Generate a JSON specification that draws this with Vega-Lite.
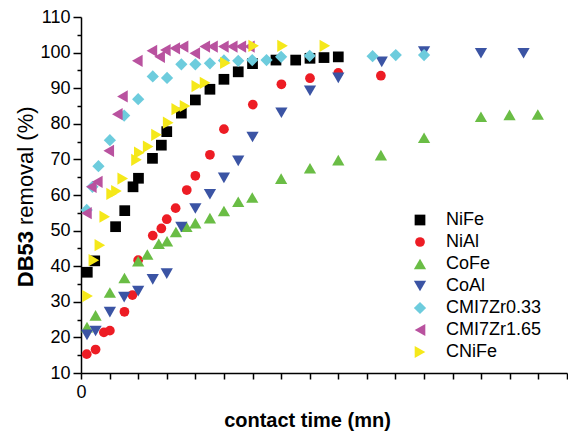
{
  "$schema": "https://vega.github.io/schema/vega-lite/v6.json",
  "width": 486,
  "height": 356,
  "autosize": "none",
  "padding": {"left": 81, "top": 17, "right": 1, "bottom": 59},
  "config": {
    "view": {"stroke": null},
    "font": "Liberation Sans",
    "axis": {"domainColor": "black", "tickColor": "black", "labelColor": "black", "titleColor": "black", "domainWidth": 1.5, "tickWidth": 1.5, "grid": false, "labelFont": "Liberation Sans", "titleFont": "Liberation Sans"}
  },
  "datasets": {
    "pts": [
      {"s": "NiFe", "t": 2.2, "r": 38.3}, {"s": "NiFe", "t": 4.8, "r": 41.5}, {"s": "NiFe", "t": 12.1, "r": 51.1}, {"s": "NiFe", "t": 15.3, "r": 55.6}, {"s": "NiFe", "t": 18.2, "r": 62.3}, {"s": "NiFe", "t": 20.1, "r": 64.7}, {"s": "NiFe", "t": 25, "r": 70.3}, {"s": "NiFe", "t": 28.1, "r": 74.0}, {"s": "NiFe", "t": 30, "r": 77.8}, {"s": "NiFe", "t": 35.1, "r": 83.0}, {"s": "NiFe", "t": 40, "r": 86.7}, {"s": "NiFe", "t": 45.1, "r": 89.7}, {"s": "NiFe", "t": 50, "r": 92.5}, {"s": "NiFe", "t": 55, "r": 94.6}, {"s": "NiFe", "t": 60, "r": 96.9}, {"s": "NiFe", "t": 68.2, "r": 97.9}, {"s": "NiFe", "t": 75.1, "r": 97.9}, {"s": "NiFe", "t": 80.1, "r": 98.4}, {"s": "NiFe", "t": 85, "r": 98.6}, {"s": "NiFe", "t": 90, "r": 98.8},
      {"s": "NiAl", "t": 2.0, "r": 15.3}, {"s": "NiAl", "t": 5.1, "r": 16.6}, {"s": "NiAl", "t": 8.0, "r": 21.4}, {"s": "NiAl", "t": 10.1, "r": 21.9}, {"s": "NiAl", "t": 15.2, "r": 27.2}, {"s": "NiAl", "t": 18.0, "r": 31.9}, {"s": "NiAl", "t": 20.0, "r": 41.7}, {"s": "NiAl", "t": 25.1, "r": 48.6}, {"s": "NiAl", "t": 28.1, "r": 50.6}, {"s": "NiAl", "t": 30.0, "r": 53.2}, {"s": "NiAl", "t": 33.1, "r": 56.3}, {"s": "NiAl", "t": 37.0, "r": 61.4}, {"s": "NiAl", "t": 40.0, "r": 65.4}, {"s": "NiAl", "t": 45.1, "r": 71.3}, {"s": "NiAl", "t": 50.0, "r": 78.5}, {"s": "NiAl", "t": 60.1, "r": 85.4}, {"s": "NiAl", "t": 70.1, "r": 91.1}, {"s": "NiAl", "t": 80.1, "r": 92.8}, {"s": "NiAl", "t": 90.0, "r": 94.3}, {"s": "NiAl", "t": 104.9, "r": 93.5},
      {"s": "CoFe", "t": 2.1, "r": 22.9}, {"s": "CoFe", "t": 5.1, "r": 26.2}, {"s": "CoFe", "t": 10.1, "r": 32.6}, {"s": "CoFe", "t": 15.2, "r": 36.7}, {"s": "CoFe", "t": 20.0, "r": 41.4}, {"s": "CoFe", "t": 23.2, "r": 43.3}, {"s": "CoFe", "t": 27.2, "r": 46.3}, {"s": "CoFe", "t": 30.1, "r": 47.0}, {"s": "CoFe", "t": 33.2, "r": 49.6}, {"s": "CoFe", "t": 36.9, "r": 51.1}, {"s": "CoFe", "t": 40.0, "r": 52.1}, {"s": "CoFe", "t": 45.1, "r": 53.5}, {"s": "CoFe", "t": 50.0, "r": 55.5}, {"s": "CoFe", "t": 55.0, "r": 58.1}, {"s": "CoFe", "t": 59.9, "r": 59.3}, {"s": "CoFe", "t": 70.0, "r": 64.6}, {"s": "CoFe", "t": 80.1, "r": 67.5}, {"s": "CoFe", "t": 90.0, "r": 69.8}, {"s": "CoFe", "t": 104.9, "r": 71.2}, {"s": "CoFe", "t": 120.0, "r": 76.1}, {"s": "CoFe", "t": 139.9, "r": 82.0}, {"s": "CoFe", "t": 149.9, "r": 82.5}, {"s": "CoFe", "t": 159.8, "r": 82.6},
      {"s": "CoAl", "t": 2.1, "r": 20.7}, {"s": "CoAl", "t": 5.1, "r": 21.8}, {"s": "CoAl", "t": 10.1, "r": 27.1}, {"s": "CoAl", "t": 15.1, "r": 31.3}, {"s": "CoAl", "t": 20.0, "r": 33.0}, {"s": "CoAl", "t": 25.1, "r": 36.3}, {"s": "CoAl", "t": 30.0, "r": 37.9}, {"s": "CoAl", "t": 35.1, "r": 51.0}, {"s": "CoAl", "t": 40.0, "r": 56.2}, {"s": "CoAl", "t": 45.1, "r": 60.2}, {"s": "CoAl", "t": 50.0, "r": 64.8}, {"s": "CoAl", "t": 55.0, "r": 69.6}, {"s": "CoAl", "t": 60.0, "r": 76.3}, {"s": "CoAl", "t": 70.1, "r": 83.1}, {"s": "CoAl", "t": 80.1, "r": 89.3}, {"s": "CoAl", "t": 90.0, "r": 92.9}, {"s": "CoAl", "t": 105.2, "r": 97.4}, {"s": "CoAl", "t": 120.0, "r": 100.3}, {"s": "CoAl", "t": 139.9, "r": 99.8}, {"s": "CoAl", "t": 154.8, "r": 99.8},
      {"s": "CMI7Zr0.33", "t": 2.0, "r": 55.8}, {"s": "CMI7Zr0.33", "t": 4.0, "r": 62.3}, {"s": "CMI7Zr0.33", "t": 6.1, "r": 68.1}, {"s": "CMI7Zr0.33", "t": 10.1, "r": 75.4}, {"s": "CMI7Zr0.33", "t": 15.1, "r": 82.3}, {"s": "CMI7Zr0.33", "t": 20.0, "r": 86.9}, {"s": "CMI7Zr0.33", "t": 25.1, "r": 93.3}, {"s": "CMI7Zr0.33", "t": 30.1, "r": 92.9}, {"s": "CMI7Zr0.33", "t": 35.1, "r": 96.7}, {"s": "CMI7Zr0.33", "t": 40.0, "r": 96.7}, {"s": "CMI7Zr0.33", "t": 45.1, "r": 97.0}, {"s": "CMI7Zr0.33", "t": 50.0, "r": 97.8}, {"s": "CMI7Zr0.33", "t": 55.0, "r": 97.7}, {"s": "CMI7Zr0.33", "t": 59.9, "r": 97.9}, {"s": "CMI7Zr0.33", "t": 64.9, "r": 97.9}, {"s": "CMI7Zr0.33", "t": 70.0, "r": 98.8}, {"s": "CMI7Zr0.33", "t": 80.0, "r": 99.1}, {"s": "CMI7Zr0.33", "t": 102.0, "r": 99.0}, {"s": "CMI7Zr0.33", "t": 110.1, "r": 99.3}, {"s": "CMI7Zr0.33", "t": 120.0, "r": 99.3},
      {"s": "CMI7Zr1.65", "t": 1.9, "r": 54.9}, {"s": "CMI7Zr1.65", "t": 3.6, "r": 62.3}, {"s": "CMI7Zr1.65", "t": 5.7, "r": 63.7}, {"s": "CMI7Zr1.65", "t": 9.7, "r": 72.4}, {"s": "CMI7Zr1.65", "t": 12.7, "r": 82.7}, {"s": "CMI7Zr1.65", "t": 14.5, "r": 87.7}, {"s": "CMI7Zr1.65", "t": 19.7, "r": 97.7}, {"s": "CMI7Zr1.65", "t": 24.8, "r": 100.5}, {"s": "CMI7Zr1.65", "t": 27.5, "r": 98.8}, {"s": "CMI7Zr1.65", "t": 29.5, "r": 100.7}, {"s": "CMI7Zr1.65", "t": 32.8, "r": 101.2}, {"s": "CMI7Zr1.65", "t": 35.7, "r": 101.7}, {"s": "CMI7Zr1.65", "t": 39.8, "r": 99.8}, {"s": "CMI7Zr1.65", "t": 43.3, "r": 101.7}, {"s": "CMI7Zr1.65", "t": 46.0, "r": 101.7}, {"s": "CMI7Zr1.65", "t": 49.8, "r": 101.7}, {"s": "CMI7Zr1.65", "t": 52.9, "r": 101.7}, {"s": "CMI7Zr1.65", "t": 55.9, "r": 101.7}, {"s": "CMI7Zr1.65", "t": 58.9, "r": 101.7},
      {"s": "CNiFe", "t": 2.3, "r": 31.6}, {"s": "CNiFe", "t": 4.5, "r": 41.7}, {"s": "CNiFe", "t": 6.6, "r": 45.9}, {"s": "CNiFe", "t": 8.3, "r": 53.9}, {"s": "CNiFe", "t": 10.7, "r": 60.3}, {"s": "CNiFe", "t": 12.4, "r": 61.1}, {"s": "CNiFe", "t": 14.6, "r": 64.6}, {"s": "CNiFe", "t": 19.4, "r": 69.9}, {"s": "CNiFe", "t": 20.4, "r": 71.9}, {"s": "CNiFe", "t": 23.5, "r": 73.6}, {"s": "CNiFe", "t": 26.4, "r": 76.9}, {"s": "CNiFe", "t": 30.5, "r": 80.3}, {"s": "CNiFe", "t": 33.5, "r": 84.1}, {"s": "CNiFe", "t": 36.4, "r": 85.0}, {"s": "CNiFe", "t": 40.5, "r": 90.6}, {"s": "CNiFe", "t": 43.4, "r": 91.5}, {"s": "CNiFe", "t": 50.5, "r": 97.1}, {"s": "CNiFe", "t": 60.4, "r": 101.9}, {"s": "CNiFe", "t": 70.5, "r": 101.9}, {"s": "CNiFe", "t": 85.3, "r": 101.9}
    ]
  },
  "data": {"name": "pts"},
  "encoding": {
    "x": {
      "field": "t", "type": "quantitative",
      "scale": {"domain": [0, 170], "nice": false, "zero": false},
      "axis": {
        "title": "contact time (mn)",
        "values": [0, 10, 20, 30, 40, 50, 60, 70, 80, 90, 100, 110, 120, 130, 140, 150, 160, 170],
        "tickSize": 6,
        "labelExpr": "datum.value == 0 ? '0' : ''",
        "labelFontSize": 18, "labelPadding": 4, "labelFlush": false, "labelOverlap": false,
        "titleFontSize": 20, "titleFontWeight": "bold",
        "titleX": 226, "titleY": 53, "titleBaseline": "alphabetic", "titleAlign": "center"
      }
    }
  },
  "layer": [
    {
      "mark": {"type": "point", "filled": true, "opacity": 1, "strokeWidth": 0},
      "encoding": {
        "y": {
          "field": "r", "type": "quantitative",
          "scale": {"domain": [10, 110], "nice": false, "zero": false},
          "axis": {
            "orient": "left",
            "title": "removal (%)",
            "values": [10, 20, 30, 40, 50, 60, 70, 80, 90, 100, 110],
            "tickSize": 8, "labelFontSize": 18, "labelPadding": 3, "labelOverlap": false,
            "titleFontSize": 22, "titleFontWeight": "normal",
            "titleX": -56, "titleY": 207.5, "titleAlign": "left", "titleAngle": -90, "titleBaseline": "middle"
          }
        },
        "color": {
          "field": "s", "type": "nominal",
          "scale": {"domain": ["NiFe", "NiAl", "CoFe", "CoAl", "CMI7Zr0.33", "CMI7Zr1.65", "CNiFe"],
                    "range": ["#000000", "#ED1C24", "#6ABD45", "#3B54A4", "#6DCCDD", "#B9529F", "#F5E81A"]},
          "legend": {"title": null, "orient": "none", "legendX": 330, "legendY": 194, "labelFontSize": 18, "labelFont": "Liberation Sans", "labelColor": "black", "rowPadding": 4, "labelOffset": 17, "padding": 0}
        },
        "shape": {
          "field": "s", "type": "nominal",
          "scale": {"domain": ["NiFe", "NiAl", "CoFe", "CoAl", "CMI7Zr0.33", "CMI7Zr1.65", "CNiFe"],
                    "range": ["square", "circle", "triangle-up", "triangle-down", "diamond", "triangle-left", "triangle-right"]}
        },
        "size": {
          "field": "s", "type": "nominal",
          "scale": {"type": "ordinal", "domain": ["NiFe", "NiAl", "CoFe", "CoAl", "CMI7Zr0.33", "CMI7Zr1.65", "CNiFe"],
                    "range": [115, 95, 150, 150, 150, 150, 150]}
        }
      }
    },
    {
      "mark": {"type": "point", "opacity": 0},
      "encoding": {
        "y": {
          "field": "r", "type": "quantitative",
          "axis": {
            "orient": "left",
            "title": "DB53",
            "values": [15, 25, 35, 45, 55, 65, 75, 85, 95, 105],
            "tickSize": 4, "labels": false, "domain": false,
            "titleFontSize": 22, "titleFontWeight": "bold",
            "titleX": -56, "titleY": 213.5, "titleAlign": "right", "titleAngle": -90, "titleBaseline": "middle"
          }
        }
      }
    }
  ],
  "resolve": {"axis": {"y": "independent"}}
}
